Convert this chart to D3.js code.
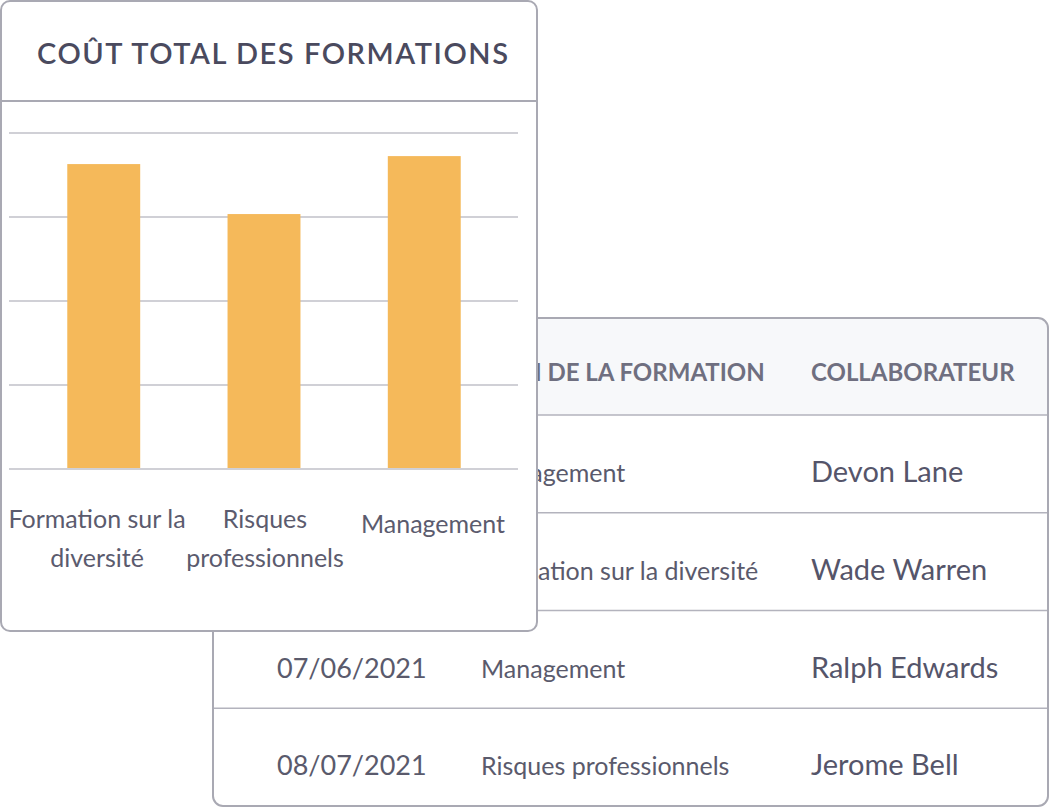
<!DOCTYPE html>
<html>
<head>
<meta charset="utf-8">
<script src="https://cdn.jsdelivr.net/npm/d3@7"></script>
<style>
  html, body { margin: 0; padding: 0; background: #ffffff; }
  svg { display: block; font-family: "Lato", "Open Sans", sans-serif; }
</style>
</head>
<body>
<svg id="chart" width="1050" height="808"></svg>
<script>
// ---- Data ----
const chartTitle = "COÛT TOTAL DES FORMATIONS";
const categories = ["Formation sur la diversité", "Risques professionnels", "Management"];
const categoryLabelLines = [["Formation sur la", "diversité"], ["Risques", "professionnels"], ["Management"]];
const costValues = [3630, 3035, 3725];
const gridTicks = [0, 1000, 2000, 3000, 4000];

const tableColumns = ["DATE", "NOM DE LA FORMATION", "COLLABORATEUR"];
const tableDates = ["05/04/2021", "06/05/2021", "07/06/2021", "08/07/2021"];
const tableFormations = ["Management", "Formation sur la diversité", "Management", "Risques professionnels"];
const tableCollaborators = ["Devon Lane", "Wade Warren", "Ralph Edwards", "Jerome Bell"];

// ---- Drawing ----
const svg = d3.select("#chart");
const borderColor = "#a9a9b3";
const defs = svg.append("defs");

// ===== Table card (behind) =====
const T = { x: 213, y: 318, w: 835, h: 488, r: 10, headH: 97 };
defs.append("clipPath").attr("id", "tableClip")
  .append("rect").attr("x", T.x).attr("y", T.y).attr("width", T.w).attr("height", T.h).attr("rx", T.r);

const tbl = svg.append("g");
tbl.append("rect").attr("x", T.x).attr("y", T.y).attr("width", T.w).attr("height", T.h)
  .attr("rx", T.r).attr("fill", "#ffffff");
tbl.append("rect").attr("clip-path", "url(#tableClip)")
  .attr("x", T.x).attr("y", T.y).attr("width", T.w).attr("height", T.headH)
  .attr("fill", "#f7f8fa");

const rowScale = d3.scaleBand().domain(d3.range(tableDates.length))
  .range([T.y + T.headH, T.y + T.h]);

// row dividers
tbl.selectAll("line.row").data(d3.range(tableDates.length)).join("line")
  .attr("x1", T.x).attr("x2", T.x + T.w)
  .attr("y1", d => rowScale(d)).attr("y2", d => rowScale(d))
  .attr("stroke", "#b3b3bd").attr("stroke-width", 1.6);

const colX = [277, 481, 811];
tbl.selectAll("text.head").data(tableColumns).join("text")
  .attr("x", (d, i) => colX[i]).attr("y", T.y + 63)
  .attr("font-size", 24).attr("font-weight", 700).attr("fill", "#6f6f80")
  .text(d => d);

const rows = tbl.selectAll("g.trow").data(d3.range(tableDates.length)).join("g")
  .attr("transform", d => `translate(0,${rowScale(d) + 67})`);
rows.append("text").attr("x", colX[0]).attr("font-size", 27).attr("fill", "#5a5a6c")
  .text(d => tableDates[d]);
rows.append("text").attr("x", colX[1]).attr("font-size", 25).attr("fill", "#5a5a6c")
  .text(d => tableFormations[d]);
rows.append("text").attr("x", colX[2]).attr("font-size", 29).attr("fill", "#55556a")
  .text(d => tableCollaborators[d]);

tbl.append("rect").attr("x", T.x).attr("y", T.y).attr("width", T.w).attr("height", T.h)
  .attr("rx", T.r).attr("fill", "none").attr("stroke", borderColor).attr("stroke-width", 2);

// ===== Chart card (front) =====
const C = { x: 1, y: 1, w: 536, h: 630, r: 9, headH: 100 };
const card = svg.append("g");
card.append("rect").attr("x", C.x).attr("y", C.y).attr("width", C.w).attr("height", C.h)
  .attr("rx", C.r).attr("fill", "#ffffff").attr("stroke", borderColor).attr("stroke-width", 2);
card.append("line").attr("x1", C.x).attr("x2", C.x + C.w)
  .attr("y1", C.y + C.headH).attr("y2", C.y + C.headH)
  .attr("stroke", borderColor).attr("stroke-width", 2);

card.append("text").attr("x", 37).attr("y", 64)
  .attr("font-size", 29).attr("font-weight", 600).attr("fill", "#4a4a5e")
  .attr("textLength", 471).attr("lengthAdjust", "spacing")
  .text(chartTitle);

const plot = { left: 9, right: 518, top: 133, bottom: 469 };
const y = d3.scaleLinear().domain([0, 4000]).range([plot.bottom, plot.top]);
const x = d3.scaleBand().domain(categories).range([24, 504]).paddingInner(0.545).paddingOuter(0.27);
const xLabel = d3.scalePoint().domain(categories).range([97, 433]);

card.selectAll("line.grid").data(gridTicks).join("line")
  .attr("x1", plot.left).attr("x2", plot.right)
  .attr("y1", d => y(d)).attr("y2", d => y(d))
  .attr("stroke", "#d0d0d6").attr("stroke-width", 2);

card.selectAll("rect.bar").data(costValues).join("rect")
  .attr("x", (d, i) => x(categories[i]))
  .attr("width", x.bandwidth())
  .attr("y", d => y(d))
  .attr("height", d => y(0) - y(d) - 1)
  .attr("fill", "#f5b95a");

const labels = card.selectAll("text.cat").data(categories).join("text")
  .attr("text-anchor", "middle").attr("font-size", 25).attr("fill", "#5b5b6e");
labels.each(function (d, i) {
  const lines = categoryLabelLines[i];
  const baseY = 533 - (lines.length - 1) * 5;
  d3.select(this).selectAll("tspan").data(lines).join("tspan")
    .attr("x", xLabel(d)).attr("y", (l, j) => baseY + j * 39)
    .text(l => l);
});
</script>
</body>
</html>
